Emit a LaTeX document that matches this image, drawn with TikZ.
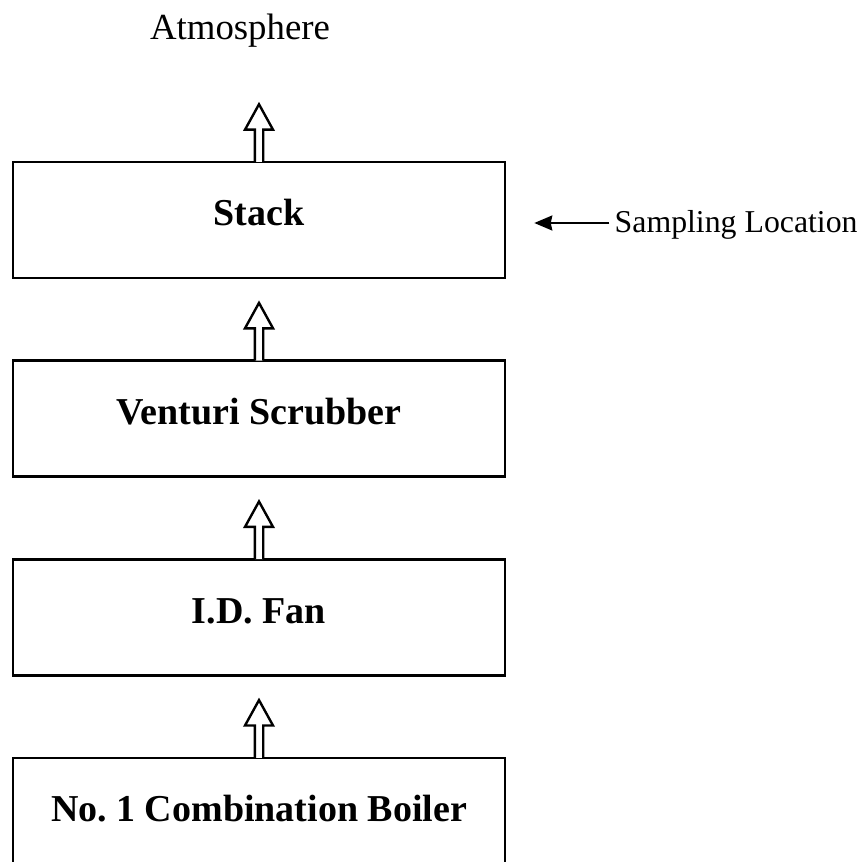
\documentclass[tikz,border=0pt]{standalone}
\usepackage{fontspec}
\setmainfont{Liberation Serif}
\usepackage{tikz}
\usetikzlibrary{arrows.meta,positioning}

\begin{document}
\begin{tikzpicture}[
  node distance=40pt,
  unit/.style={draw, line width=1.3pt, minimum width=246pt, minimum height=58pt,
               text height=13pt, text depth=7pt,
               align=center, font=\fontsize{19}{22}\selectfont\bfseries},
  flow/.style={draw, fill=white, line width=1.2pt, line join=miter,
               to path={([xshift=-2.1pt,yshift=-.65pt]\tikztostart) -- ++(0,16.15pt)
                 -- ++(-4.9pt,0) -- ++(7pt,12.7pt) -- ++(7pt,-12.7pt) -- ++(-4.9pt,0)
                 -- ++(0,-16.15pt)}},
  pointer/.style={-{Stealth[length=9pt,width=7.5pt,inset=.8pt]}, line width=1pt},
  note/.style={inner sep=0pt, font=\fontsize{15.9}{18}\selectfont}
]
\useasboundingbox (0,0) rectangle (433pt,-430.5pt);

\node[unit] (stack) at (129.5pt,-110pt) {Stack};
\node[unit, below=of stack] (venturi) {Venturi Scrubber};
\node[unit, below=of venturi] (fan) {I.D. Fan};
\node[unit, below=of fan] (boiler) {No.\ 1 Combination Boiler};

\node[inner sep=0pt, anchor=base, font=\fontsize{18.4}{21}\selectfont]
  (atmo) at (120pt,-20pt) {Atmosphere};

\draw[flow] (boiler.north) to (fan.south);
\draw[flow] (fan.north) to (venturi.south);
\draw[flow] (venturi.north) to (stack.south);
\draw[flow] (stack.north) to (atmo.south);

\node[note, anchor=base west] (samp) at ([xshift=54pt,yshift=-6.5pt]stack.east) {Sampling Location};
\coordinate (probe) at ([xshift=14pt,yshift=-1.5pt]stack.east);
\draw[pointer] ([xshift=-2.5pt,yshift=5pt]samp.base west) -- (probe);
\end{tikzpicture}
\end{document}
